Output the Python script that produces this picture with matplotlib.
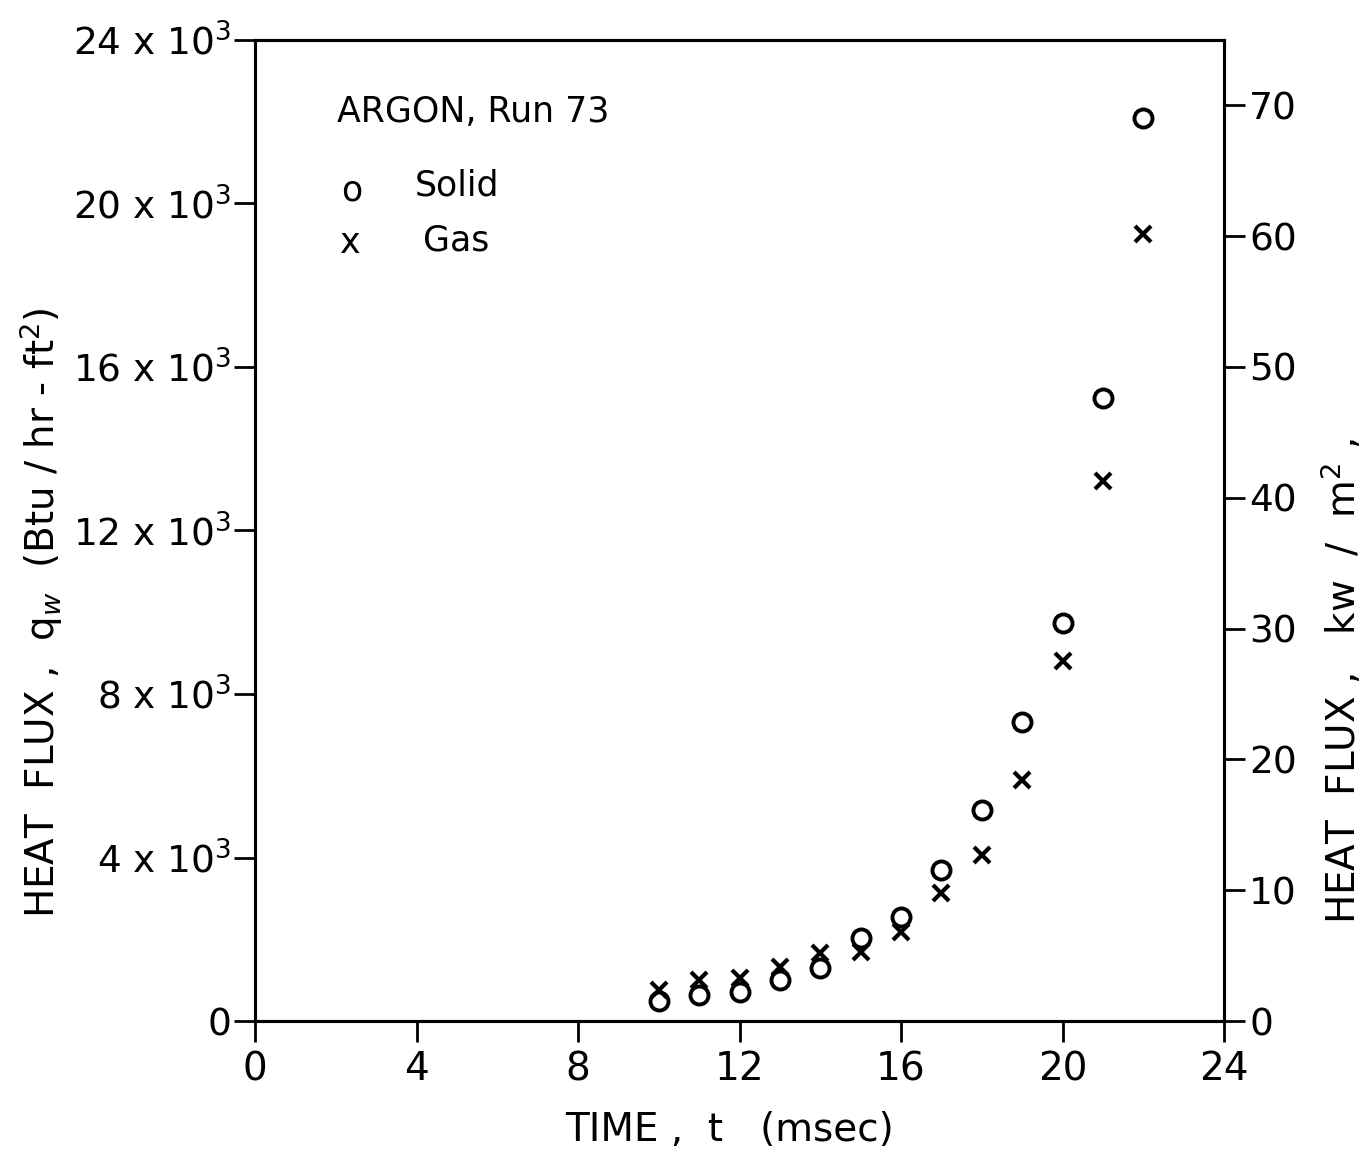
import numpy as np
import matplotlib.pyplot as plt

# Run 73 readings (time in msec, heat flux in Btu/hr-ft^2)
t_solid = [10, 11, 12, 13, 14, 15, 16, 17, 18, 19, 20, 21, 22]
q_solid = [480, 640, 710, 1000, 1300, 2030, 2540, 3690, 5160, 7310, 9740, 15240, 22100]
t_gas = [10, 11, 12, 13, 14, 15, 16, 17, 18, 19, 20, 21, 22]
q_gas = [760, 1000, 1050, 1320, 1660, 1690, 2180, 3130, 4060, 5900, 8800, 13200, 19250]

x_ticks = [0, 4, 8, 12, 16, 20, 24]
y_ticks = [0, 4000, 8000, 12000, 16000, 20000, 24000]
y_labels = ["0", r"4 x 10$^3$", r"8 x 10$^3$", r"12 x 10$^3$",
            r"16 x 10$^3$", r"20 x 10$^3$", r"24 x 10$^3$"]
kw_ticks = [0, 10, 20, 30, 40, 50, 60, 70]

plt.rcParams['font.family'] = ['DejaVu Sans']
plt.rcParams['mathtext.fontset'] = 'dejavusans'

fig = plt.figure(figsize=(13.69, 11.55), dpi=100)
ax = fig.add_axes([0.1863, 0.116, 0.7078, 0.8494])

ax.plot(t_solid, q_solid, linestyle="none", marker="o", markersize=13,
        markerfacecolor="none", markeredgecolor="black", markeredgewidth=2.8)
ax.plot(t_gas, q_gas, linestyle="none", marker="x", markersize=11,
        color="black", markeredgewidth=3)

ax.set_xlim(0, 24)
ax.set_ylim(0, 24000)
ax.set_xticks(x_ticks)
ax.set_xticklabels([str(v) for v in x_ticks], fontsize=28)
ax.set_yticks(y_ticks)
ax.set_yticklabels(y_labels, fontsize=27)
ax.tick_params(axis="both", direction="out", length=15, width=2, pad=6)
ax.tick_params(axis="y", pad=2)
for s in ax.spines.values():
    s.set_linewidth(2.2)

ax2 = ax.twinx()
ax2.set_ylim(0, 75)
ax2.set_yticks(kw_ticks)
ax2.set_yticklabels([str(v) for v in kw_ticks], fontsize=27)
ax2.tick_params(axis="y", direction="out", length=15, width=2, pad=3)
for s in ax2.spines.values():
    s.set_linewidth(2.2)

# in-plot key, drawn as lettering like the original
ax.text(0.0846, 0.9266, "ARGON, Run 73", transform=ax.transAxes,
        fontsize=25, va="center", ha="left")
ax.text(0.100, 0.847, "o", transform=ax.transAxes, fontsize=25, va="center", ha="center")
ax.text(0.165, 0.852, "Solid", transform=ax.transAxes, fontsize=25, va="center", ha="left")
ax.text(0.098, 0.793, "x", transform=ax.transAxes, fontsize=25, va="center", ha="center")
ax.text(0.173, 0.796, "Gas", transform=ax.transAxes, fontsize=25, va="center", ha="left")

fig.text(0.030, 0.47, r"HEAT  FLUX ,  q$_w$  (Btu / hr - ft$^2$)", rotation=90,
         fontsize=28, va="center", ha="center")
fig.text(0.980, 0.41, r"HEAT  FLUX ,   kw  /  m$^2$ ,", rotation=90,
         fontsize=28, va="center", ha="center")
fig.text(0.533, 0.022, "TIME ,  t   (msec)", fontsize=28, va="center", ha="center")

fig.savefig("out.png", dpi=100)
